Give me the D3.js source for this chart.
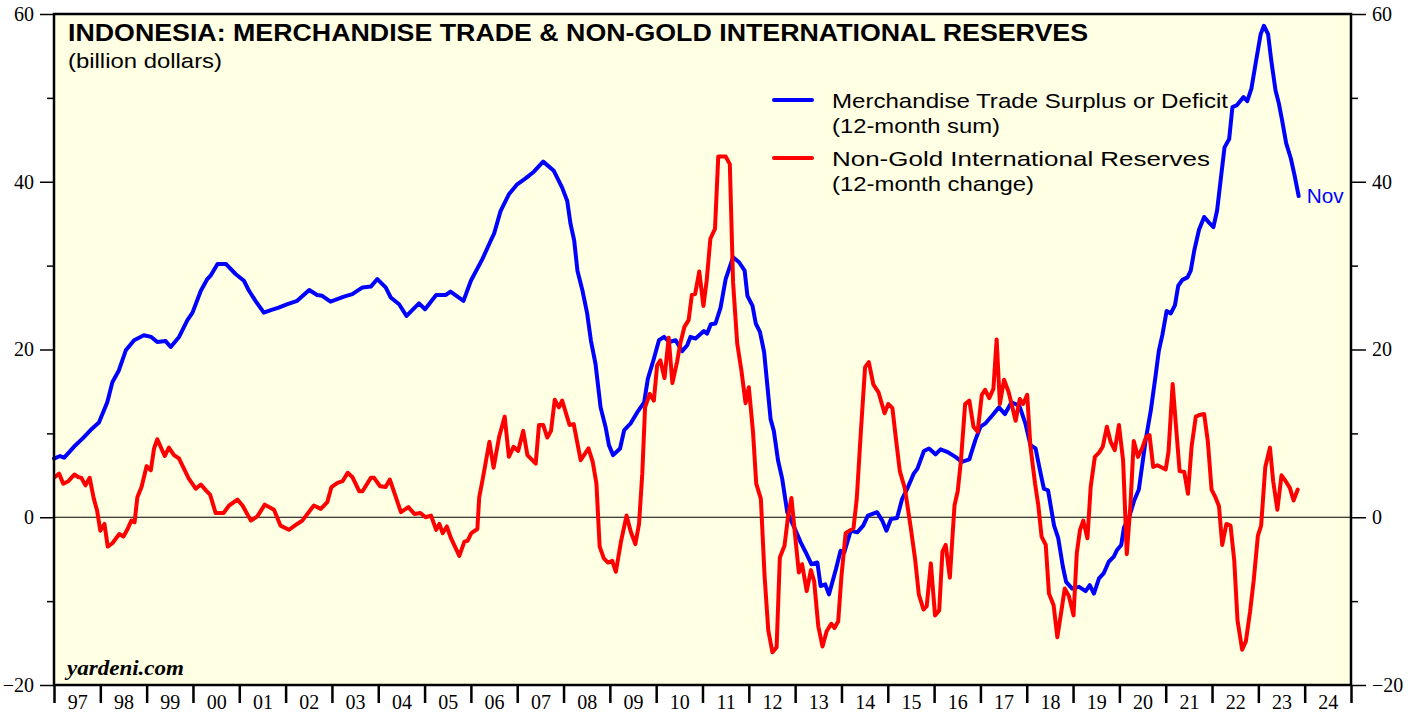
<!DOCTYPE html>
<html>
<head>
<meta charset="utf-8">
<script src="https://cdn.jsdelivr.net/npm/d3@7"></script>
<style>
  body { margin: 0; background: #fff; }
  svg { display: block; }
</style>
</head>
<body>
<svg id="chart" width="1416" height="717"></svg>
<script>
// x categories: calendar years shown on the axis
const yearStarts = d3.range(1997, 2026);
const yearLabels = d3.range(1997, 2025);
const yMajorTicks = [-20, 0, 20, 40, 60];
const yMinorTicks = [-10, 10, 30, 50];

// Merchandise trade surplus or deficit, 12-month sum (decimal year, billion $)
const tradeSeries = [
  [1997.00, 7.0], [1997.13, 7.3], [1997.22, 7.1], [1997.43, 8.4], [1997.62, 9.4], [1997.79, 10.4], [1997.97, 11.3],
  [1998.15, 13.7], [1998.26, 16.1], [1998.40, 17.5], [1998.55, 19.9], [1998.73, 21.1], [1998.94, 21.7],
  [1999.10, 21.5], [1999.23, 20.9], [1999.41, 21.0], [1999.52, 20.3], [1999.70, 21.5], [1999.88, 23.5], [1999.99, 24.4],
  [2000.17, 27.0], [2000.31, 28.4], [2000.38, 28.8], [2000.53, 30.2], [2000.71, 30.2], [2000.92, 29.0],
  [2001.10, 28.2], [2001.21, 27.0], [2001.35, 25.8], [2001.53, 24.4], [2001.68, 24.7], [2001.85, 25.0],
  [2002.04, 25.4], [2002.25, 25.8], [2002.51, 27.1], [2002.68, 26.5], [2002.79, 26.4], [2002.97, 25.7],
  [2003.26, 26.3], [2003.44, 26.6], [2003.66, 27.4], [2003.84, 27.5], [2003.98, 28.4],
  [2004.16, 27.4], [2004.27, 26.2], [2004.45, 25.4], [2004.61, 24.0], [2004.88, 25.5],
  [2005.01, 24.8], [2005.25, 26.5], [2005.46, 26.5], [2005.56, 26.9], [2005.84, 25.8],
  [2006.00, 28.2], [2006.25, 30.8], [2006.43, 33.0], [2006.50, 33.8], [2006.64, 36.5], [2006.82, 38.5],
  [2007.00, 39.7], [2007.18, 40.4], [2007.36, 41.2], [2007.56, 42.4], [2007.79, 41.3], [2007.97, 39.3],
  [2008.08, 37.7], [2008.15, 35.0], [2008.23, 33.0], [2008.30, 29.4], [2008.41, 27.0], [2008.51, 24.3],
  [2008.59, 21.1], [2008.69, 18.3], [2008.80, 13.1], [2008.91, 10.7], [2008.98, 8.6],
  [2009.07, 7.4], [2009.22, 8.2], [2009.31, 10.4], [2009.45, 11.2], [2009.59, 12.5], [2009.74, 13.7], [2009.82, 16.5], [2009.95, 18.9],
  [2010.06, 21.1], [2010.17, 21.5], [2010.28, 20.9], [2010.42, 21.1], [2010.56, 19.8], [2010.67, 20.5], [2010.74, 21.5], [2010.85, 21.3],
  [2011.03, 22.2], [2011.10, 21.9], [2011.18, 23.0], [2011.28, 23.1], [2011.39, 25.0], [2011.50, 28.4], [2011.66, 31.0],
  [2011.79, 30.4], [2011.91, 29.4], [2011.97, 26.4],
  [2012.08, 25.2], [2012.15, 23.1], [2012.24, 22.1], [2012.33, 19.7], [2012.47, 11.7], [2012.54, 10.3], [2012.63, 6.8],
  [2012.72, 4.6], [2012.83, 0.6], [2012.98, -1.2],
  [2013.12, -3.0], [2013.23, -4.2], [2013.35, -5.6], [2013.48, -5.4], [2013.55, -8.2], [2013.65, -8.0], [2013.73, -9.2],
  [2013.88, -6.2], [2013.98, -4.0],
  [2014.06, -4.2], [2014.20, -1.6], [2014.34, -1.8], [2014.47, -1.0], [2014.57, 0.2], [2014.77, 0.6], [2014.88, -0.4], [2014.97, -1.6],
  [2015.07, -0.2], [2015.20, -0.1], [2015.31, 2.2], [2015.42, 3.4], [2015.56, 5.2], [2015.64, 5.8], [2015.78, 7.9], [2015.89, 8.2],
  [2016.03, 7.5], [2016.14, 8.1], [2016.28, 7.8], [2016.46, 7.2], [2016.60, 6.6], [2016.76, 6.9], [2016.89, 9.2],
  [2017.00, 10.8], [2017.11, 11.2], [2017.25, 12.1], [2017.40, 13.1], [2017.53, 12.3], [2017.67, 13.7], [2017.84, 13.3], [2017.97, 11.2],
  [2018.08, 8.6], [2018.19, 8.2], [2018.30, 5.2], [2018.37, 3.4], [2018.46, 3.2], [2018.59, -1.0], [2018.68, -2.5],
  [2018.78, -5.9], [2018.85, -7.7], [2018.98, -8.5],
  [2019.13, -8.3], [2019.27, -8.8], [2019.36, -8.1], [2019.45, -9.1], [2019.56, -7.3], [2019.66, -6.7], [2019.77, -5.3],
  [2019.88, -4.7], [2019.95, -3.9],
  [2020.04, -3.3], [2020.10, -1.2], [2020.21, 0.0], [2020.32, 2.0], [2020.42, 3.3], [2020.57, 9.3], [2020.68, 12.8],
  [2020.78, 16.8], [2020.85, 19.8], [2020.93, 21.8],
  [2021.02, 24.6], [2021.11, 24.3], [2021.20, 25.3], [2021.27, 27.6], [2021.36, 28.3], [2021.47, 28.6], [2021.54, 29.4],
  [2021.62, 31.9], [2021.72, 34.3], [2021.83, 35.8], [2021.94, 35.1],
  [2022.03, 34.6], [2022.11, 36.6], [2022.19, 40.4], [2022.27, 44.1], [2022.37, 45.1], [2022.44, 48.9], [2022.53, 49.1],
  [2022.68, 50.1], [2022.76, 49.6], [2022.85, 51.1], [2022.95, 54.4],
  [2023.05, 57.6], [2023.12, 58.6], [2023.21, 57.6], [2023.28, 54.4], [2023.37, 50.9], [2023.44, 49.4], [2023.51, 47.4],
  [2023.60, 44.6], [2023.70, 42.8], [2023.78, 40.8], [2023.87, 38.3],
];

// Non-gold international reserves, 12-month change (decimal year, billion $)
const reservesSeries = [
  [1997.02, 4.8], [1997.11, 5.2], [1997.20, 4.0], [1997.31, 4.3], [1997.44, 5.1], [1997.52, 4.8], [1997.59, 4.7],
  [1997.68, 3.8], [1997.77, 4.7], [1997.86, 2.2], [1997.93, 0.8],
  [1998.00, -1.6], [1998.09, -0.8], [1998.16, -3.5], [1998.26, -3.1], [1998.41, -2.0], [1998.50, -2.3], [1998.58, -1.5],
  [1998.67, -0.4], [1998.74, -0.6], [1998.80, 2.4], [1998.89, 3.6],
  [1999.00, 6.1], [1999.09, 5.6], [1999.16, 8.2], [1999.23, 9.3], [1999.39, 7.3], [1999.48, 8.3], [1999.59, 7.4],
  [1999.70, 7.0], [1999.91, 4.6],
  [2000.06, 3.4], [2000.17, 3.9], [2000.28, 3.2], [2000.37, 2.7], [2000.49, 0.5], [2000.66, 0.5], [2000.78, 1.4], [2000.96, 2.1],
  [2001.07, 1.4], [2001.25, -0.4], [2001.39, 0.1], [2001.55, 1.5], [2001.75, 0.9], [2001.89, -1.0],
  [2002.07, -1.5], [2002.25, -0.8], [2002.36, -0.4], [2002.61, 1.4], [2002.76, 1.0], [2002.90, 1.8], [2002.99, 3.6],
  [2003.12, 4.1], [2003.23, 4.3], [2003.34, 5.3], [2003.44, 4.8], [2003.59, 3.1], [2003.66, 3.1], [2003.84, 4.7], [2003.91, 4.7],
  [2004.04, 3.7], [2004.16, 3.6], [2004.25, 4.5], [2004.38, 2.4], [2004.49, 0.6], [2004.65, 1.2], [2004.78, 0.4], [2004.91, 0.5],
  [2005.02, 0.0], [2005.14, 0.2], [2005.25, -1.5], [2005.32, -0.8], [2005.39, -1.9], [2005.48, -1.1], [2005.57, -2.5],
  [2005.75, -4.6], [2005.86, -2.9], [2005.93, -2.8],
  [2006.01, -1.9], [2006.14, -1.4], [2006.18, 2.4], [2006.25, 4.4], [2006.40, 9.0], [2006.49, 5.9], [2006.61, 9.6],
  [2006.73, 12.0], [2006.82, 7.2], [2006.92, 8.4],
  [2007.02, 7.9], [2007.13, 10.3], [2007.22, 7.4], [2007.40, 6.4], [2007.47, 11.0], [2007.56, 11.0], [2007.65, 9.5],
  [2007.73, 10.3], [2007.81, 14.0], [2007.90, 13.1], [2007.97, 13.9],
  [2008.13, 11.0], [2008.22, 11.1], [2008.37, 6.8], [2008.54, 8.2], [2008.63, 6.6], [2008.71, 4.0], [2008.78, -3.5],
  [2008.87, -4.9], [2008.96, -5.4],
  [2009.05, -5.2], [2009.13, -6.5], [2009.24, -2.9], [2009.36, 0.2], [2009.45, -1.7], [2009.55, -3.2], [2009.63, -0.8],
  [2009.70, 5.2], [2009.76, 13.1], [2009.86, 14.7], [2009.95, 13.9],
  [2010.02, 18.1], [2010.09, 18.7], [2010.18, 16.6], [2010.27, 21.4], [2010.35, 16.0], [2010.45, 18.5], [2010.52, 20.7],
  [2010.61, 22.7], [2010.70, 23.5], [2010.77, 26.5], [2010.84, 26.6], [2010.93, 29.3],
  [2011.02, 25.2], [2011.09, 28.2], [2011.17, 33.2], [2011.27, 34.4], [2011.34, 43.0], [2011.50, 43.0], [2011.59, 42.1],
  [2011.66, 28.0], [2011.75, 20.7], [2011.84, 17.5], [2011.93, 13.6],
  [2012.00, 15.5], [2012.09, 10.2], [2012.16, 4.0], [2012.26, 2.2], [2012.34, -7.0], [2012.42, -13.5], [2012.51, -16.1],
  [2012.60, -15.5], [2012.67, -4.8], [2012.77, -3.4], [2012.85, 0.2], [2012.92, 2.3],
  [2013.00, -2.2], [2013.08, -6.6], [2013.15, -5.6], [2013.25, -8.8], [2013.34, -6.3], [2013.41, -7.6], [2013.50, -13.0],
  [2013.59, -15.4], [2013.68, -13.6], [2013.78, -12.7], [2013.85, -13.2], [2013.93, -12.4],
  [2014.00, -7.0], [2014.09, -1.9], [2014.26, -1.3], [2014.33, 2.2], [2014.42, 10.3], [2014.51, 17.9], [2014.59, 18.5],
  [2014.69, 15.8], [2014.80, 14.9], [2014.93, 12.4],
  [2015.01, 13.5], [2015.10, 13.0], [2015.19, 8.7], [2015.26, 5.5], [2015.37, 3.4], [2015.50, -1.4], [2015.59, -5.0],
  [2015.67, -9.2], [2015.77, -11.0], [2015.84, -10.6], [2015.93, -5.5],
  [2016.02, -11.7], [2016.11, -11.1], [2016.18, -4.1], [2016.25, -3.3], [2016.34, -7.2], [2016.44, 1.4], [2016.51, 3.1],
  [2016.58, 6.8], [2016.67, 13.5], [2016.76, 13.9], [2016.85, 10.8], [2016.94, 10.2],
  [2017.03, 14.6], [2017.10, 15.2], [2017.19, 14.2], [2017.28, 15.3], [2017.35, 21.2], [2017.42, 13.5], [2017.51, 16.4],
  [2017.61, 14.9], [2017.76, 11.5], [2017.85, 14.1], [2017.92, 13.5],
  [2018.01, 14.6], [2018.08, 8.4], [2018.18, 4.0], [2018.25, 1.4], [2018.32, -2.3], [2018.41, -3.3], [2018.48, -9.1],
  [2018.58, -10.5], [2018.66, -14.3], [2018.75, -11.1], [2018.82, -8.5], [2018.91, -9.4],
  [2019.01, -11.7], [2019.08, -4.3], [2019.15, -1.5], [2019.22, -0.4], [2019.31, -2.5], [2019.38, 3.6], [2019.47, 7.2],
  [2019.56, 7.7], [2019.64, 8.4], [2019.73, 10.8], [2019.81, 9.0], [2019.90, 8.0], [2019.99, 11.0],
  [2020.08, 6.8], [2020.16, -4.4], [2020.24, 1.6], [2020.31, 9.1], [2020.40, 7.2], [2020.49, 8.2], [2020.58, 9.6],
  [2020.65, 9.8], [2020.73, 6.0], [2020.82, 6.2],
  [2021.00, 5.7], [2021.06, 7.8], [2021.15, 15.9], [2021.22, 11.0], [2021.30, 5.5], [2021.40, 5.4], [2021.48, 2.8],
  [2021.56, 8.5], [2021.65, 12.0], [2021.73, 12.2], [2021.83, 12.3], [2021.91, 9.0], [2021.99, 3.3],
  [2022.08, 2.3], [2022.15, 1.3], [2022.22, -3.3], [2022.31, -0.8], [2022.40, -1.0], [2022.48, -5.2], [2022.55, -12.3],
  [2022.65, -15.8], [2022.73, -14.8], [2022.82, -11.3], [2022.90, -7.5], [2022.99, -2.2],
  [2023.06, -1.0], [2023.15, 6.0], [2023.25, 8.3], [2023.32, 4.3], [2023.41, 0.9], [2023.50, 5.0], [2023.59, 4.3],
  [2023.68, 3.5], [2023.76, 2.0], [2023.85, 3.3],
];

const svg = d3.select('#chart');
const margin = { top: 14, right: 65, bottom: 32, left: 54 };
const width = 1416 - margin.left - margin.right;
const height = 717 - margin.top - margin.bottom;
const serif = '"Liberation Serif", "Times New Roman", serif';
const sans = '"Liberation Sans", Arial, Helvetica, sans-serif';

const x = d3.scaleLinear().domain([1997, 2025]).range([0, width]);
const y = d3.scaleLinear().domain([-20, 60]).range([height, 0]);

const g = svg.append('g').attr('transform', `translate(${margin.left},${margin.top})`);

// plot background
g.append('rect')
  .attr('width', width)
  .attr('height', height)
  .attr('fill', '#ffffe3');

// zero line
g.append('line')
  .attr('x1', 0).attr('x2', width)
  .attr('y1', y(0)).attr('y2', y(0))
  .attr('stroke', '#000')
  .attr('stroke-width', 1.2);

// lines
const line = d3.line()
  .x((d) => x(d[0]))
  .y((d) => y(d[1]));

g.append('path')
  .datum(tradeSeries)
  .attr('fill', 'none')
  .attr('stroke', '#0000ff')
  .attr('stroke-width', 4)
  .attr('stroke-linejoin', 'round')
  .attr('stroke-linecap', 'round')
  .attr('d', line);

g.append('path')
  .datum(reservesSeries)
  .attr('fill', 'none')
  .attr('stroke', '#ff0000')
  .attr('stroke-width', 4)
  .attr('stroke-linejoin', 'round')
  .attr('stroke-linecap', 'round')
  .attr('d', line);

// frame
g.append('rect')
  .attr('width', width)
  .attr('height', height)
  .attr('fill', 'none')
  .attr('stroke', '#000')
  .attr('stroke-width', 2.5);

// y axes, left and right
function styleAxis(sel) {
  sel.select('.domain').remove();
  sel.selectAll('line').attr('stroke', '#000').attr('stroke-width', 1.5);
  sel.selectAll('text').attr('fill', '#000').style('font-family', serif).style('font-size', '20px');
}

g.append('g')
  .call(d3.axisLeft(y).tickValues(yMajorTicks).tickSize(14).tickPadding(6).tickFormat(d3.format('d')))
  .call(styleAxis);
g.append('g')
  .call(d3.axisLeft(y).tickValues(yMinorTicks).tickSize(7).tickFormat(''))
  .call(styleAxis);
g.append('g')
  .attr('transform', `translate(${width},0)`)
  .call(d3.axisRight(y).tickValues(yMajorTicks).tickSize(15).tickPadding(6).tickFormat(d3.format('d')))
  .call(styleAxis);
g.append('g')
  .attr('transform', `translate(${width},0)`)
  .call(d3.axisRight(y).tickValues(yMinorTicks).tickSize(7).tickFormat(''))
  .call(styleAxis);

// x axis: boundary ticks plus centered year labels
g.append('g')
  .attr('transform', `translate(0,${height})`)
  .call(d3.axisBottom(x).tickValues(yearStarts).tickSize(18).tickFormat(''))
  .call((sel) => {
    sel.select('.domain').remove();
    sel.selectAll('line').attr('stroke', '#000').attr('stroke-width', 2.5);
  });

g.append('g')
  .attr('transform', `translate(0,${height})`)
  .call(d3.axisBottom(x).tickValues(yearLabels.map((d) => d + 0.5)).tickSize(0).tickPadding(10)
    .tickFormat((d) => String(Math.floor(d) % 100).padStart(2, '0')))
  .call((sel) => {
    sel.select('.domain').remove();
    sel.selectAll('text').attr('fill', '#000').style('font-family', serif).style('font-size', '20px');
  });

// title block (the original face is wider than Liberation Sans, so stretch to its width)
g.append('text')
  .attr('x', 14).attr('y', 27)
  .attr('textLength', 1020).attr('lengthAdjust', 'spacingAndGlyphs')
  .style('font-family', sans).style('font-weight', 'bold').style('font-size', '24px')
  .text('INDONESIA: MERCHANDISE TRADE & NON-GOLD INTERNATIONAL RESERVES');

g.append('text')
  .attr('x', 14).attr('y', 54)
  .attr('textLength', 154).attr('lengthAdjust', 'spacingAndGlyphs')
  .style('font-family', sans).style('font-size', '21px')
  .text('(billion dollars)');

// legend
const legend = [
  { color: '#0000ff', lines: ['Merchandise Trade Surplus or Deficit', '(12-month sum)'], widths: [396, 168], y: 86 },
  { color: '#ff0000', lines: ['Non-Gold International Reserves', '(12-month change)'], widths: [378, 202], y: 144 },
];
legend.forEach((item) => {
  g.append('line')
    .attr('x1', 720).attr('x2', 758)
    .attr('y1', item.y).attr('y2', item.y)
    .attr('stroke', item.color).attr('stroke-width', 4).attr('stroke-linecap', 'round');
  item.lines.forEach((t, i) => {
    g.append('text')
      .attr('x', 778).attr('y', item.y + 8 + i * 25)
      .attr('textLength', item.widths[i]).attr('lengthAdjust', 'spacingAndGlyphs')
      .style('font-family', sans).style('font-size', '21px')
      .text(t);
  });
});

// last-month label
const last = tradeSeries[tradeSeries.length - 1];
g.append('text')
  .attr('x', x(last[0]) + 8).attr('y', y(last[1]) + 7)
  .attr('textLength', 37).attr('lengthAdjust', 'spacingAndGlyphs')
  .attr('fill', '#0000ff')
  .style('font-family', sans).style('font-size', '20px')
  .text('Nov');

// source
g.append('text')
  .attr('x', 13).attr('y', height - 10)
  .attr('textLength', 117).attr('lengthAdjust', 'spacingAndGlyphs')
  .style('font-family', serif).style('font-weight', 'bold').style('font-style', 'italic').style('font-size', '20px')
  .text('yardeni.com');
</script>
</body>
</html>
